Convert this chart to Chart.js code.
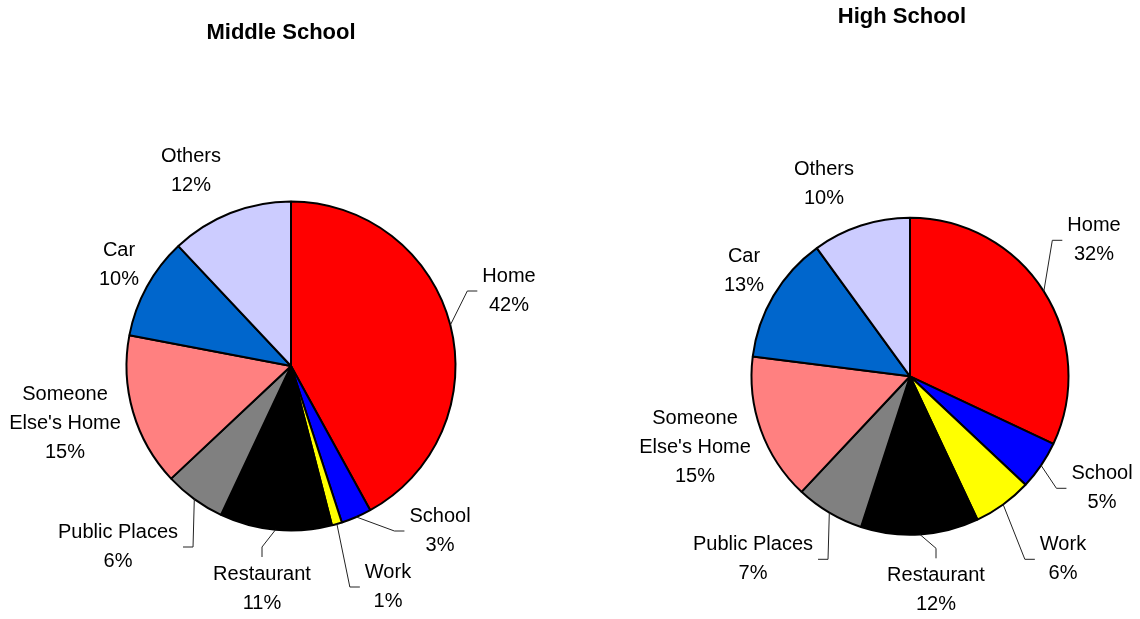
<!DOCTYPE html>
<html>
<head>
<meta charset="utf-8">
<script src="https://cdn.jsdelivr.net/npm/chart.js@4.4.1/dist/chart.umd.min.js"></script>
<style>
  body { margin: 0; background: #fff; }
  .pie-box { position: absolute; top: 0; width: 570px; height: 619px; }
</style>
</head>
<body>
<div class="pie-box" style="left:0"><canvas id="middleChart"></canvas></div>
<div class="pie-box" style="left:570px"><canvas id="highChart"></canvas></div>
<script>
// where students are, share per place (%)
const places = ['Home', 'School', 'Work', 'Restaurant', 'Public Places', ['Someone', "Else's Home"], 'Car', 'Others'];
const middleSchool = [42, 3, 1, 11, 6, 15, 10, 12];
const highSchool = [32, 5, 6, 12, 7, 15, 13, 10];
const placeColors = ['#FF0000', '#0000FF', '#FFFF00', '#000000', '#808080', '#FF8080', '#0066CC', '#CCCCFF'];

// label block centre, measured from the pie centre
const middleLabelPos = [[218, -75], [149, 165], [97, 221], [-29, 223], [-173, 181], [-226, 57], [-172, -101], [-100, -195]];
const highLabelPos = [[184, -136], [192, 112], [153, 183], [26, 214], [-157, 183], [-215, 71], [-166, -105], [-86, -192]];
const hasLeader = [true, true, true, true, true, false, false, false];

const LINE_H = 29;
const FONT = '"Liberation Sans", Arial, sans-serif';

// titles, slice labels and the little elbow leader lines
const pieLabels = {
  id: 'pieLabels',
  afterDraw(chart, args, opts) {
    const ctx = chart.ctx;
    const meta = chart.getDatasetMeta(0);
    const values = chart.data.datasets[0].data;
    ctx.save();
    ctx.fillStyle = '#000';
    ctx.textAlign = 'center';
    ctx.textBaseline = 'middle';
    ctx.font = 'bold 22px ' + FONT;
    ctx.fillText(opts.title, opts.titleX, opts.titleY);

    ctx.font = '20px ' + FONT;
    ctx.strokeStyle = '#222';
    ctx.lineWidth = 1;
    meta.data.forEach((arc, i) => {
      const lines = [].concat(chart.data.labels[i], values[i] + '%');
      const lx = arc.x + opts.positions[i][0];
      const ly = arc.y + opts.positions[i][1];
      const h = lines.length * LINE_H;
      lines.forEach((t, k) => ctx.fillText(t, lx, ly - h / 2 + LINE_H * (k + 0.5)));

      if (!hasLeader[i]) return;
      const mid = (arc.startAngle + arc.endAngle) / 2;
      const ax = arc.x + Math.cos(mid) * arc.outerRadius;
      const ay = arc.y + Math.sin(mid) * arc.outerRadius;
      const w = Math.max(...lines.map(t => ctx.measureText(t).width));
      let ex, ey, bx, by;
      if (Math.abs(lx - ax) < w / 2) {
        ex = lx; ey = ly - h / 2 - 3; bx = ex; by = ey - 10;
      } else if (lx > ax) {
        ex = lx - w / 2 - 5; ey = ly; bx = ex - 10; by = ey;
      } else {
        ex = lx + w / 2 + 5; ey = ly; bx = ex + 10; by = ey;
      }
      ctx.beginPath();
      ctx.moveTo(ax, ay);
      ctx.lineTo(bx, by);
      ctx.lineTo(ex, ey);
      ctx.stroke();
    });
    ctx.restore();
  }
};

function makePie(id, values, title, titleX, titleY, positions, padding) {
  return new Chart(document.getElementById(id), {
    type: 'pie',
    data: {
      labels: places,
      datasets: [{
        data: values,
        backgroundColor: placeColors,
        borderColor: '#000',
        borderWidth: 2
      }]
    },
    options: {
      responsive: true,
      maintainAspectRatio: false,
      animation: false,
      events: [],
      layout: { padding: padding },
      plugins: {
        legend: { display: false },
        tooltip: { enabled: false },
        pieLabels: { title, titleX, titleY, positions }
      }
    },
    plugins: [pieLabels]
  });
}

makePie('middleChart', middleSchool, 'Middle School', 281, 33, middleLabelPos,
  { left: 125.5, right: 113.5, top: 200.5, bottom: 87.5 });
makePie('highChart', highSchool, 'High School', 332, 16.5, highLabelPos,
  { left: 180.5, right: 70.5, top: 216.8, bottom: 83.2 });
</script>
</body>
</html>
